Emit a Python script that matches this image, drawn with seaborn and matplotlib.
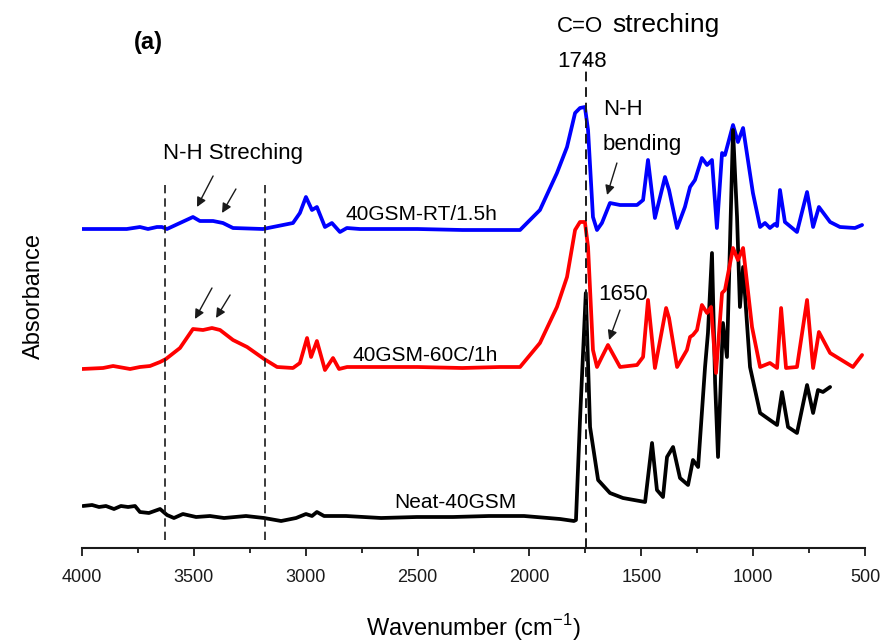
import numpy as np
import pandas as pd
import matplotlib
matplotlib.use('Agg')
import matplotlib.pyplot as plt
import seaborn as sns

# 波数 (cm-1) 和吸光度 (从原图读取, 已含堆叠偏移)
rt_wn = [4000, 3800, 3741, 3705, 3665, 3643, 3620, 3562, 3504, 3473,
         3414, 3370, 3325, 3191, 3057, 3026, 2999, 2972, 2950, 2914,
         2883, 2847, 2816, 2758, 2500, 2300, 2132, 2042, 1953, 1877,
         1832, 1796, 1774, 1752, 1738, 1716, 1698, 1676, 1640, 1595,
         1519, 1492, 1470, 1439, 1394, 1376, 1340, 1305, 1282, 1260,
         1229, 1206, 1184, 1162, 1139, 1126, 1090, 1068, 1045, 1001,
         969, 947, 925, 903, 893, 880, 858, 804, 759, 732,
         706, 656, 612, 545, 513]
rt_abs = [3.19, 3.19, 3.21, 3.19, 3.21, 3.21, 3.19, 3.25, 3.31, 3.27,
          3.27, 3.25, 3.20, 3.19, 3.25, 3.35, 3.51, 3.38, 3.41, 3.21,
          3.25, 3.16, 3.20, 3.19, 3.19, 3.18, 3.18, 3.18, 3.38, 3.75,
          4.01, 4.35, 4.40, 4.41, 4.18, 3.31, 3.18, 3.25, 3.45, 3.43,
          3.43, 3.48, 3.88, 3.30, 3.71, 3.58, 3.20, 3.41, 3.61, 3.68,
          3.90, 3.83, 3.88, 3.20, 3.95, 3.93, 4.23, 4.06, 4.20, 3.55,
          3.21, 3.25, 3.20, 3.24, 3.22, 3.58, 3.26, 3.16, 3.56, 3.21,
          3.41, 3.26, 3.21, 3.20, 3.23]

c60_wn = [4000, 3906, 3861, 3785, 3741, 3696, 3651, 3625, 3562, 3504,
          3459, 3419, 3383, 3325, 3262, 3186, 3128, 3057, 3026, 2994,
          2976, 2950, 2914, 2878, 2851, 2815, 2500, 2300, 2132, 2042,
          1953, 1877, 1832, 1796, 1774, 1752, 1738, 1716, 1698, 1676,
          1649, 1595, 1519, 1492, 1470, 1439, 1389, 1376, 1340, 1296,
          1282, 1269, 1251, 1229, 1206, 1188, 1166, 1139, 1126, 1090,
          1068, 1045, 1005, 969, 925, 893, 875, 853, 804, 759,
          732, 706, 656, 554, 513]
c60_abs = [1.79, 1.80, 1.82, 1.79, 1.81, 1.82, 1.86, 1.89, 2.00, 2.19,
           2.18, 2.20, 2.18, 2.08, 2.01, 1.89, 1.81, 1.80, 1.85, 2.10,
           1.91, 2.07, 1.78, 1.90, 1.79, 1.81, 1.81, 1.80, 1.81, 1.81,
           2.05, 2.41, 2.71, 3.18, 3.26, 3.26, 3.01, 1.98, 1.81, 1.91,
           2.03, 1.81, 1.83, 1.91, 2.48, 1.80, 2.40, 2.30, 1.81, 1.98,
           2.11, 2.13, 2.18, 2.43, 2.35, 2.41, 1.75, 2.55, 2.58, 3.00,
           2.88, 3.00, 2.21, 1.81, 1.85, 1.80, 2.40, 1.80, 1.81, 2.48,
           1.80, 2.16, 1.95, 1.81, 1.93]

neat_wn = [3996, 3955, 3924, 3893, 3857, 3826, 3794, 3763, 3741, 3701,
           3651, 3620, 3589, 3549, 3490, 3428, 3365, 3267, 3186, 3110,
           3043, 2999, 2972, 2950, 2918, 2869, 2820, 2663, 2503, 2342,
           2181, 2024, 1863, 1801, 1792, 1774, 1748, 1729, 1693, 1640,
           1582, 1483, 1452, 1430, 1403, 1385, 1358, 1327, 1291, 1269,
           1246, 1215, 1202, 1184, 1170, 1157, 1135, 1117, 1090, 1072,
           1059, 1045, 1014, 969, 925, 893, 871, 844, 804, 759,
           732, 710, 688, 656]
neat_abs = [0.42, 0.43, 0.41, 0.42, 0.39, 0.42, 0.41, 0.42, 0.36, 0.35,
            0.39, 0.33, 0.30, 0.34, 0.31, 0.32, 0.30, 0.32, 0.30, 0.27,
            0.30, 0.34, 0.32, 0.36, 0.32, 0.32, 0.32, 0.30, 0.31, 0.31,
            0.32, 0.32, 0.29, 0.27, 0.28, 1.28, 2.55, 1.21, 0.68, 0.55,
            0.50, 0.46, 1.05, 0.58, 0.51, 0.91, 1.01, 0.70, 0.63, 0.88,
            0.81, 1.81, 2.15, 2.95, 1.65, 0.91, 2.25, 1.91, 4.18, 3.31,
            2.41, 2.81, 1.81, 1.35, 1.28, 1.23, 1.56, 1.21, 1.15, 1.63,
            1.35, 1.58, 1.56, 1.61]

samples = ['40GSM-RT/1.5h', 'Neat-40GSM', '40GSM-60C/1h']
colors = {'40GSM-RT/1.5h': 'blue', 'Neat-40GSM': 'black', '40GSM-60C/1h': 'red'}

df = pd.concat([
    pd.DataFrame({'wn': rt_wn, 'abs': rt_abs, 'sample': samples[0]}),
    pd.DataFrame({'wn': neat_wn, 'abs': neat_abs, 'sample': samples[1]}),
    pd.DataFrame({'wn': c60_wn, 'abs': c60_abs, 'sample': samples[2]}),
])

sns.set_theme(style='white')
plt.rcParams['font.family'] = ['Liberation Sans', 'DejaVu Sans']
plt.rcParams['mathtext.fontset'] = 'custom'
plt.rcParams['mathtext.rm'] = 'Liberation Sans'
plt.rcParams['text.color'] = 'black'
plt.rcParams['axes.labelcolor'] = 'black'
plt.rcParams['xtick.color'] = 'black'

fig = plt.figure(figsize=(8.85, 6.42), dpi=100)
ax = fig.add_axes([82 / 885, 94 / 642, 783 / 885, 504 / 642])

sns.lineplot(data=df, x='wn', y='abs', hue='sample', hue_order=samples,
             palette=colors, sort=False, estimator=None, legend=False,
             lw=2.7, solid_joinstyle='round', ax=ax)

ax.set_xlim(4000, 500)
ax.set_ylim(0, 5.04)

# 虚线
dash = (0, (5, 3))
ax.vlines([3629, 3182], 0.08, 3.63, colors='k', linestyles=dash, lw=1.2)
ax.vlines(1748, 0, 4.88, colors='k', linestyles=dash, lw=1.4)

# 坐标轴样式
for s in ['left', 'top', 'right']:
    ax.spines[s].set_visible(False)
ax.spines['bottom'].set_linewidth(1.5)
ax.spines['bottom'].set_color('k')
ax.set_xticks(np.arange(4000, 499, -500))
ax.set_xticks(np.arange(3750, 500, -500), minor=True)
ax.set_yticks([])
ax.tick_params(axis='x', which='major', direction='out', length=6, width=1.3,
               color='k', labelsize=13, labelcolor='k', pad=9, bottom=True)
ax.tick_params(axis='x', which='minor', direction='out', length=3.5, width=1.3,
               color='k', bottom=True)
ax.set_xlabel('Wavenumber (cm$^{-1}$)', fontsize=17, labelpad=19)
ax.set_ylabel('Absorbance', fontsize=17, labelpad=27)

# 文字标注
ax.text(3705, 5.06, '(a)', fontsize=17, fontweight='bold', ha='center', va='center')
ax.text(1877, 5.16, 'C=O', fontsize=16, ha='left', va='baseline')
ax.text(1630, 5.16, 'streching', fontsize=19, ha='left', va='baseline')
ax.text(1877, 4.81, '1748', fontsize=16, ha='left', va='baseline')
ax.text(1671, 4.33, 'N-H', fontsize=16, ha='left', va='baseline')
ax.text(1671, 3.98, 'bending', fontsize=16, ha='left', va='baseline')
ax.text(1693, 2.48, '1650', fontsize=16, ha='left', va='baseline')
ax.text(3325, 3.89, 'N-H Streching', fontsize=16, ha='center', va='baseline')
ax.text(2824, 3.28, '40GSM-RT/1.5h', fontsize=15, ha='left', va='baseline')
ax.text(2793, 1.87, '40GSM-60C/1h', fontsize=15, ha='left', va='baseline')
ax.text(2605, 0.40, 'Neat-40GSM', fontsize=15, ha='left', va='baseline')

# 箭头
arrows = [((3414, 3.72), (3486, 3.41)), ((3312, 3.59), (3374, 3.35)),
          ((3419, 2.60), (3495, 2.29)), ((3338, 2.53), (3401, 2.30)),
          ((1609, 3.85), (1653, 3.53)), ((1595, 2.38), (1644, 2.08))]
for tail, head in arrows:
    ax.annotate('', xy=head, xytext=tail,
                arrowprops=dict(arrowstyle='-|>', color='k', lw=1.0,
                                mutation_scale=14, shrinkA=0, shrinkB=0))

fig.savefig('out.png', dpi=100)
